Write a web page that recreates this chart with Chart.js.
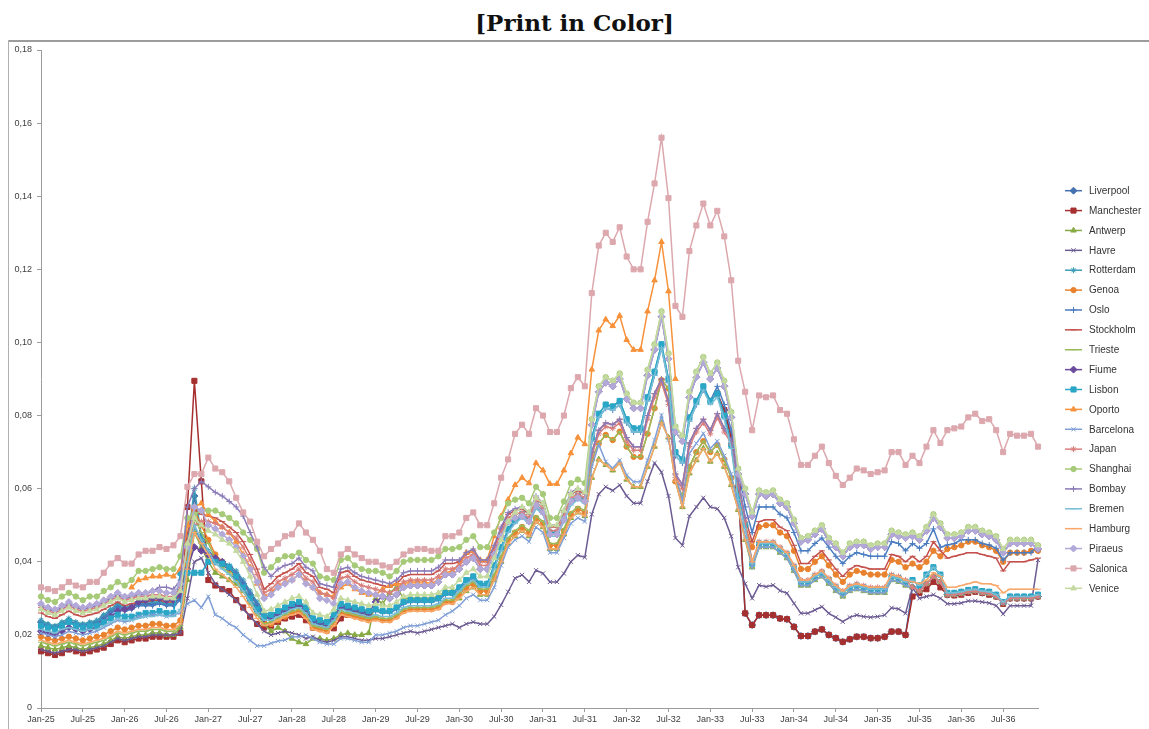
<!DOCTYPE html>
<html lang="en">
<head>
<meta charset="UTF-8" />
<title>Print in Color</title>
<script src="https://cdn.jsdelivr.net/npm/chart.js"></script>
<style>
    body { margin: 0; background: #fff; }
    .page { position: relative; width: 1149px; height: 729px; overflow: hidden; }
    .title {
        position: absolute; left: 0; top: 11px; width: 100%;
        text-align: center; font: bold 23px "DejaVu Serif", serif; line-height: 23px; color: #111;
    }
    .frame-top { position: absolute; left: 8px; top: 40px; width: 1141px; height: 2px; background: #9c9c9c; }
    .frame-left { position: absolute; left: 8px; top: 40px; width: 1px; height: 689px; background: #b0b0b0; }
    canvas { position: absolute; left: 0; top: 0; }
</style>
</head>
<body>
<div class="page">
    <div class="title">[Print in Color]</div>
    <div class="frame-top"></div>
    <div class="frame-left"></div>
    <canvas id="chart" width="1149" height="729"></canvas>
</div>

<script>
// values in thousandths (0,034 -> 34), one row per year 1925..1936
const n = null;

const monthNames = ['Jan','Feb','Mar','Apr','May','Jun','Jul','Aug','Sep','Oct','Nov','Dec'];
const years = ['25','26','27','28','29','30','31','32','33','34','35','36'];
const tickLabels = ['Jan-25','Jul-25','Jan-26','Jul-26','Jan-27','Jul-27','Jan-28','Jul-28','Jan-29','Jul-29',
    'Jan-30','Jul-30','Jan-31','Jul-31','Jan-32','Jul-32','Jan-33','Jul-33','Jan-34','Jul-34','Jan-35','Jul-35','Jan-36','Jul-36'];

const liverpool = [
    23.5,22.5,22,23,24,23,22.5,23,23.5,25,26.5,28,
    27,27.5,28.5,28.5,28.5,29,28.5,28.5,30,42,58,46,
    42,40,39,38,36.5,34,31,28,25,24.5,25.5,26.5,
    27.5,28,26.5,23.5,23,22.5,24.5,27.5,27,26.5,26,25.5,
    n,n,n,n,n,n,n,n,n,n,n,n,
    n,n,n,n,n,n,n,n,n,n,n,n,
    n,n,n,n,n,n,n,n,n,n,n,n,
    n,n,n,n,n,n,n,n,n,n,n,n,
    n,86,81.5,74.2,60.5,25.9,22.7,25.4,25.4,25.4,24.5,24.3,
    22.2,19.7,19.7,20.9,21.5,20,19.1,18.1,18.8,19.5,19.5,19.1,
    19.1,19.5,20.9,20.9,20,33,32,34,36,34.5,31,31,
    31.3,31.8,32,31.5,31.3,30.5,28.7,30,30,30,30,30.5
];
const manchester = [
    15.5,15,14.5,15,16,15.5,15,15.5,16,16.5,17.5,18.5,
    18,18.5,19,19,19.5,19.5,19.5,19.5,20.5,55,89.5,62,
    35,33.5,32.5,32,29.5,27.5,25,23,22,22.5,23.5,24.5,
    25,25.5,24,22,21.8,21.8,21.8,24.5,25.5,25.5,25,25,
    n,n,n,n,n,n,n,n,n,n,n,n,
    n,n,n,n,n,n,n,n,n,n,n,n,
    n,n,n,n,n,n,n,n,n,n,n,n,
    n,n,n,n,n,n,n,n,n,n,n,n,
    n,86,81.5,74.2,60.5,25.9,22.7,25.4,25.4,25.4,24.5,24.3,
    22.2,19.7,19.7,20.9,21.5,20,19.1,18.1,18.8,19.5,19.5,19.1,
    19.1,19.5,20.9,20.9,20,30.5,31.5,32.5,34.5,33,31,30.8,
    31,31.5,31.8,31.5,31,30.5,28.5,30,30,30,30,30.5
];
const antwerp = [
    17,16.5,16,16.5,17,16.5,16,16.5,17,17.5,18.5,19.5,
    19,19.5,20,20,20.5,20.5,20,20,22,35,48,44,
    40,37,36,35,34,32,29,26,23,21,22,21,
    19,18,17.5,19,19,18.5,19,20,20.5,20,20,20.5,
    30,28.5,31.5,33,30,30,30,30,30,30.5,32,32,
    30,32,33,31,31,35,40,45,47,48.5,47,51,
    49.5,43.5,43.5,47.5,52,53.5,52.5,63,68,66.5,65,67,
    62.5,60.5,60.5,66,71.5,78,74,62,55,64.2,67.8,71,
    67.4,69.6,66,61,54.2,46,38.5,44,44,44,42.5,41,
    37.5,33.5,33.5,35,36,34,32,30.5,32,32.5,32,31.5,
    31.5,31.5,35,34.5,33.5,33,32,34,36,34.5,31,31,
    31.3,31.8,32,31.5,31.3,30.5,28.7,30,30,30,30,30.5
];
const havre = [
    16,15.5,15,15.5,16,16,15.5,16,16.5,17,18,19,
    18.5,19,19.5,19.5,20,20,20,20,20.5,30,40,41,
    37,34,32.5,31,29.5,27,25,23,21,20,20.5,21,
    20.5,20,19,19.5,18.5,18,18.5,19.5,19.5,19,18.5,18.5,
    19,19,19.5,20,20.5,21,20.5,21,21.5,22,22.5,23,
    22,23,23.5,23,23,25,28.2,31.8,35.5,36.4,34.5,37.7,
    36.8,34.5,34.5,36.8,40,41.8,41.2,53,58.5,60.5,59.5,61,
    58,56,56,62,67,64.5,58,46.5,44.5,52.5,55,57.5,
    55,54.5,52,47,38.5,34,30,33.6,33.2,33.6,32.1,31.4,
    28.6,25.9,25.9,26.8,27.7,25.9,24.8,23.6,24.8,25.4,25,24.8,
    25,25.4,27.4,27.1,25.9,33,30,30.5,31,30,28.5,28.5,
    28.7,29.3,29.3,29,28.7,28,25.7,28,28,28,28,40.5
];
const rotterdam = [
    24,23,22.5,23.5,24.5,23.5,23,23.5,24,25.5,27,28.5,
    27.5,28,28.5,29,29,29,28.5,28.5,31,45,60,47,
    43,41,40,39,37.5,35,32,29,26,25.5,26.5,27.5,
    28.5,29,27.5,24.5,24,23.5,25.5,28.5,28,27.5,27,26.5,
    27,26.5,26.5,27.5,29,29.5,29.5,29.5,29.5,30,31.5,31.5,
    33,35,36,34,34,39,44,49,51.5,53,51.5,55.5,
    54,48,48,52,56.5,58,57,74,80.5,83,82.5,84,
    79,76.5,76.5,85,92,99.5,90,70,68,79.5,84,88,
    84,86,80,72,58,50,39.5,45,45,45,43.5,42,
    38.5,34.5,34.5,36,37,35,33,31.5,33,33.5,33,32.5,
    32.5,32.5,36,35.5,34.5,35,33.5,36.5,38.5,36.5,31.5,31.5,
    31.8,32.3,32.5,32,31.8,31,29,30.5,30.5,30.5,30.5,31
];
const genoa = [
    19.5,19,18.5,19,19.5,19,18.5,19,19.5,20,21,22,
    21.5,22,22.5,22.5,23,23,22.5,22.5,24,44,54,50,
    46,42,40,38,35.5,32.5,29,26,23.5,23,24,25,
    26,26.5,25,22,21.5,21,23,26,25.5,25,24.5,24,
    24.5,24,24,25,26.5,27,27,27,27,27.5,29,29,
    31,33,34,32,32,36,41,46,48,49.5,48,52,
    50.5,44.5,44.5,48.5,53,54.5,53.5,68,72.4,74.7,73.3,75.6,
    71.5,68.7,68.7,75,82,89.7,87.4,62,58,66,70,73,
    70,72,68,63,57,50,44,49.5,50,50,48,47,
    43,38,38,40,41.5,39,36.5,34.5,36.5,37.5,37,36.5,
    36.5,36.5,40.5,40,38.5,39.5,38.5,40,43,41.5,43.5,44,
    44.5,45.5,45.5,44.5,44,43,40,42.5,42.5,42.5,43,43
];
const oslo = [
    23,22.5,22,22.5,23.5,23,22.5,23,23,24.5,26,27.5,
    26.5,27,28,28,28,28.5,28,28,29.5,40,50,45,
    42.5,40.5,39.5,38.5,37,34.5,31.5,28.5,25.5,25,26,27,
    28,28.5,27,24,23.5,23,25,28,27.5,27,26.5,26,
    26.5,26,26,27,28.5,29,29,29,29,29.5,31,31,
    32.5,34.5,35.5,33.5,33.5,38.5,43.5,48.5,51,52.5,51,55,
    53.5,47.5,47.5,51.5,56,57.5,56.5,73,79.5,82,81.5,83,
    78,75.5,75.5,84,91,98.5,89,69,67,78.5,83,87,
    84,88,83,76,65,55,48,55,55,55,53,52,
    48,43,43,45,46.5,44,41.5,39.5,41.5,42.5,42,41.5,
    41.5,41.5,45.5,45,43,45,43.7,45,49,44,44.6,45,
    46,46,46,45,44.6,43.7,40.5,42.5,42.5,42.5,42.5,44.6
];
const stockholm = [
    26,25,24.5,25.5,26.5,25.5,25,25.5,26,27,28,29,
    28,28.5,29,29,29.5,29.5,29,29,31,48,54,53,
    52.5,52,51,49.5,48,45.5,42,38,32.5,34,36,37,
    38,39.5,37,36,33,32.5,31.5,37,37.5,36,35,34.5,
    34,33.5,33,34,36,36.5,36.5,36.5,36.5,37.5,39.5,39.5,
    40,42,43,40,40,44,49,53,54,54.5,53,57.5,
    55.5,49.5,49.5,53.5,58.5,59.5,58.5,70,76,78,77.5,79,
    74,71.5,71.5,80,86,90,84,64,61,72.5,76.5,79,
    76,80.5,76.5,73.3,62,52,45.5,51,51.5,51.5,49.5,48.5,
    44.5,39.5,39.5,41.5,43,40.5,38,36,38,39,38.5,38,
    38,38,42,41.5,40,41.5,40,41.5,45.5,43,41,41.5,
    42,42.5,42.5,42,41.5,41,37.5,40,40,40,40.5,41
];
const trieste = [
    18,17.5,17,17.5,18,17.5,17,17.5,18,18.5,19.5,20.5,
    20,20.5,21,21,21.5,21.5,21,21,22.5,40,52,48,
    45,41,38.5,37,35,32,28.5,25.5,23,23.5,24.5,25.5,
    26.5,27,25.5,22.5,22,21.5,23.5,26.5,26,25.5,25,24.5,
    25,24.5,24.5,25.5,27,27.5,27.5,27.5,27.5,28,29.5,29.5,
    31.5,33.5,34.5,32.5,32.5,36.5,41.5,46.5,48.5,50,48.5,52.5,
    51,45,45,49,53.5,55,54,68,72.4,74.7,73.3,75.6,
    71.5,68.7,68.7,75,82,89.7,87.4,62,58,66,70,73,
    70,72,68,63,57,50,38.5,44,44,44,42.5,41,
    37.5,33.5,33.5,35,36,34,32,30.5,32,32.5,32,31.5,
    31.5,31.5,35,34.5,33.5,33,32,34,36,34.5,31,31,
    31.3,31.8,32,31.5,31.3,30.5,28.7,30,30,30,30,30.5
];
const fiume = [
    21,20.5,20,21,22,21.5,21,21.5,22,23.5,25,26.5,
    27,27.5,29,29.5,30,30,29.5,29.5,31,38,44,43,
    42,41,40,38.5,36,33,30,27,24.5,25,26,27,
    28,28.5,27,24,23.5,23,25,28,27.5,27,26.5,26,
    29,30.5,30,31,33,33.5,33.5,33.5,33.5,34.5,36.5,36.5,
    38,40,41,38,38,42,47,51,52,52.5,51,55.5,
    53.5,47.5,47.5,51.5,56.5,57.5,56.5,77.5,86.5,89,88,90,
    84.5,82,82,91,98,107,95.5,75.5,73,85,90.5,94.5,
    90,93,88,79.5,64,58.5,52.5,58.5,58,58.5,56,55,
    50.5,45.5,46,47.5,49,45.5,44,41.5,44,44.5,44.5,43.5,
    44,44,47.5,47,46.5,47,46,48.5,52,49.5,46.5,46.5,
    47,48.5,48.5,47.5,47,46,42.5,45,45,45,45,43.5
];
const lisbon = [
    22.5,22,21.5,22.5,23.5,22.5,22,22.5,22.5,23.5,24.5,25.5,
    25,25,25.5,26,26,26.5,26,26,37,37,37,37,
    40,40,39.5,38.5,36,33,30,27,25,25.5,26.5,27.5,
    28.5,29,27.5,24.5,24,23.5,25.5,28.5,28,27.5,27,26.5,
    27,26.5,26.5,27.5,29,29.5,29.5,29.5,29.5,30,31.5,31.5,
    33,35,36,34,34,39,44,49,51.5,53,51.5,55.5,
    54,48,48,52,56.5,58,57,74,80.5,83,82.5,84,
    79,76.5,76.5,85,92,99.5,90,70,68,79.5,84,88,
    84,86,80,72,58,50,39.5,45,45,45,43.5,42,
    38.5,34.5,34.5,36,37,35,33,31.5,33,33.5,33,32.5,
    32.5,32.5,36,35.5,34.5,35,33.5,36.5,38.5,36.5,31.5,31.5,
    31.8,32.3,32.5,32,31.8,31,29,30.5,30.5,30.5,30.5,31
];
const oporto = [
    n,n,n,n,n,n,n,n,n,n,n,n,
    n,33,35,35.5,36,36,36.5,36,38,50,55,56,
    53,51,49.5,48,45.5,42,38.5,34,30.5,31.5,33.5,34.5,
    35,36.5,34.5,33,31.5,31,30.5,33,34,32.5,31.5,31,
    31,32.5,33.5,34,34,34.5,34.5,34.5,34,35,37,37.5,
    39,42.5,43,40.5,40.5,47,52.5,57,61,63,61.5,67,
    65,61.3,61.3,65,69.7,74,72.2,92.6,103.3,106.3,104.5,107.3,
    100.7,98,98,108.5,117,127.5,114,90,n,n,n,n,
    n,n,n,n,n,n,n,n,n,n,n,n,
    n,n,n,n,n,n,n,n,n,n,n,n,
    n,n,n,n,n,n,n,n,n,n,n,n,
    n,n,n,n,n,n,n,n,n,n,n,n
];
const barcelona = [
    20.5,20,19.5,20,21,20.5,20,20.5,21,22,23,24,
    23.5,24,25,25,25.5,25.5,25,25.5,26,28.5,29.5,27.5,
    30.5,25.5,24.5,23,22,20,18.5,17,17,17.7,18.3,18.6,
    19.5,19.5,20,19,18,17.5,17.5,19,19,18.5,18,18,
    20,20,20.5,21,22,22.5,22.5,23,23.5,24,25.5,26.5,
    28,30,31,29.5,29.5,33,39,44,46,47,45.5,49.5,
    48,42.5,42.5,46.5,50.5,52,51,66,72,67.4,65.6,67.8,
    63.7,61.9,61.9,67.8,73.3,80.1,73.3,64.2,56.5,69.6,72.4,75.1,
    71,73,69,64,55,47,38.5,44,44,44,42.5,41,
    37.5,33.5,33.5,35,36,34,32,30.5,32,32.5,32,31.5,
    31.5,31.5,35,34.5,33.5,33,32,34,36,34.5,31,31,
    31.3,31.8,32,31.5,31.3,30.5,28.7,30,30,30,30,30.5
];
const japan = [
    27.5,26.5,26,27,28,27,26.5,27,27.5,28.5,29.5,30.5,
    29.5,30,30.5,30.5,31,31,30.5,30.5,33,45,50,51,
    51,50.5,49.5,48,46.5,44,40.5,36.5,31.5,32.5,34.5,35.5,
    36.5,38,35.5,34.5,31.5,31,30,35.5,36,34.5,33.5,33,
    32.5,32,31.5,32.5,34.5,35,35,35,35,36,38,38,
    39,41,42,39,39,43,48,52,53,53.5,52,56.5,
    54.5,48.5,48.5,52.5,57.5,58.5,57.5,69,75,77,76.5,78,
    73,70.5,70.5,79,85,89,83,63,60,71.5,75.5,78,
    75,79.5,75.5,72.3,61,51,40,45.5,45.5,45.5,44,42.5,
    39,35,35,36.5,37.5,35.5,33.5,32,33.5,34,33.5,33,
    33,33,36.5,36,35,33,32,34,36,34.5,31,31,
    31.3,31.8,32,31.5,31.3,30.5,28.7,30,30,30,30,30.5
];
const shanghai = [
    30.5,29.5,29,30.5,31.5,30.5,29.5,30.5,30.5,32,33,34.5,
    33.5,35,37.5,37.5,38,38.5,38,38,41.5,52,53,54,
    54,54,53,52,50.5,48,46,43.5,37,38.5,40.5,41.5,
    41.5,42.5,40.5,39.5,36,35.5,35,40.5,41,39,38,37.5,
    37.5,37,36,37.5,40,40.5,40.5,40.5,40.5,41.5,43.5,43.5,
    44,46,47,44,44,48,52,56,57,57.5,56,60.5,
    58.5,52,52,56.5,61.5,62.5,61.5,79,88,90.5,89.5,91.5,
    86,83.5,83.5,92.5,99.5,108.5,97,77,74.5,86.5,92,96,
    91.5,94.5,89.5,81,65.5,60,53.5,59.5,59,59.5,57,56,
    51.5,46.5,47,48.5,50,46.5,45,42.5,45,45.5,45.5,44.5,
    45,45,48.5,48,47.5,48,47,49.5,53,50.5,47.5,47.5,
    48,49.5,49.5,48.5,48,47,43.5,46,46,46,46,44.5
];
const bombay = [
    28,27,26.5,27.5,28.5,27.5,27,27.5,28,29,30,31,
    30,30.5,31,31,32,33,33,32.5,35,55,60,62,
    60.5,59,58,56.5,55,52.5,48,44,38.5,36,38,39,
    39.5,41,38.5,37.5,34,33.5,33,38,38.5,37,36,35.5,
    35,34.5,34,35,37,37.5,37.5,37.5,37.5,38.5,40.5,40.5,
    40.5,42.5,43.5,40.5,40.5,44.5,49.5,53.5,54.5,55,53.5,58,
    56,50,50,54,59,60,59,70,76,78,77.5,79,
    74,71.5,71.5,80,86,90,84,64,61,72.5,76.5,79,
    76,80.5,76.5,73.3,62,52,52.5,58.5,58,58.5,56,55,
    50.5,45.5,46,47.5,49,45.5,44,41.5,44,44.5,44.5,43.5,
    44,44,47.5,47,46.5,47,46,48.5,52,49.5,46.5,46.5,
    47,48.5,48.5,47.5,47,46,42.5,45,45,45,45,43.5
];
const bremen = [
    21.5,21,20.5,21.5,22,21.5,21,21.5,21.5,22.5,23.5,24.5,
    24,24,24.5,25,25,25.5,25,25,27,40,50,46,
    43,39.5,38,36.5,34.5,32,29,26,24,24,25,26,
    27,27.5,26,23,22.5,22,24,27,26.5,26,25.5,25,
    25.5,25,25,26,27.5,28,28,28,28,28.5,30,30,
    32,34,35,33,33,38,43,48,50.5,52,50.5,54.5,
    53,47,47,51,55.5,57,56,73,79.5,82,81.5,83,
    78,75.5,75.5,84,91,98.5,89,69,67,78.5,83,87,
    83,85,79,71,57,49,39.5,45,45,45,43.5,42,
    38.5,34.5,34.5,36,37,35,33,31.5,33,33.5,33,32.5,
    32.5,32.5,36,35.5,34.5,35,33.5,36.5,38.5,36.5,31.5,31.5,
    31.8,32.3,32.5,32,31.8,31,29,30.5,30.5,30.5,30.5,31
];
const hamburg = [
    18.5,18,17.5,18,18.5,18,17.5,18,18.5,19,20,21,
    20.5,21,21.5,21.5,22,22,21.5,21.5,23,38,48,45,
    42,38,36.5,35,33,30.5,27.5,24.5,22.5,23,24,25,
    25.5,26,24.5,21.5,21,20.5,22.5,25.5,25,24.5,24,23.5,
    24,23.5,23.5,24.5,26,26.5,26.5,26.5,26.5,27,28.5,28.5,
    30,32,33,31,31,35,40,45,47,48.5,47,51,
    49.5,43.5,43.5,47.5,52,53.5,52.5,63,68,66.5,65,67,
    62.5,60.5,60.5,66,71.5,78,74,62,55,64.2,67.8,71,
    67.4,69.6,66,61,54.2,46,40,45.5,45.5,45.5,44,42.5,
    39,35,35,36.5,37.5,35.5,33.5,32,33.5,34,33.5,33,
    33,33,36.5,36,35,34.5,34,35,37,36,33,33,
    33.5,34,34.5,34,34,33.5,31.5,32.5,32.5,32.5,32.5,32.5
];
const piraeus = [
    28.5,27.5,27,28,29,28,27.5,28,28.5,29.5,30.5,31.5,
    30.5,31,31.5,31.5,32,32,31.5,31.5,34,44,55,54,
    50,49,47.5,46,44,41.5,38,34.5,30,31,33,34,
    35,36.5,34,33,30,29.5,28.5,34,34.5,33,32,31.5,
    31,30.5,30,31,33,33.5,33.5,33.5,33.5,34.5,36.5,36.5,
    38,40,41,38,38,42,47,51,52,52.5,51,55.5,
    53.5,47.5,47.5,51.5,56.5,57.5,56.5,77.5,86.5,89,88,90,
    84.5,82,82,91,98,107,95.5,75.5,73,85,90.5,94.5,
    90,93,88,79.5,64,58.5,52.5,58.5,58,58.5,56,55,
    50.5,45.5,46,47.5,49,45.5,44,41.5,44,44.5,44.5,43.5,
    44,44,47.5,47,46.5,47,46,48.5,52,49.5,46.5,46.5,
    47,48.5,48.5,47.5,47,46,42.5,45,45,45,45,43.5
];
const salonica = [
    33,32.5,32,33,34.5,33.5,33,34.5,34.5,37,39.5,41,
    39.5,39.5,42,43,43,44,43.5,44.5,47,60.5,64,64,
    68.5,65.5,64.5,62,57.5,53.5,51,45.5,41.5,43.5,45,47,
    47.5,50.5,48,46,43,38,37,42,43.5,42,41,40,
    40,39,38.5,40,42,43,43.5,43.5,43,43,47,47,
    48,52,53.5,50,50,56,63,68,75,77.5,75,82,
    80,75.5,75.5,80,87.5,90.5,88,113.5,126.5,130,127.5,131.5,
    123.5,120,120,133,143.5,156,139.5,110,107,125,132,138,
    132,136,129,117,95,86.5,76,85.5,85,85.5,81.5,80.5,
    73.5,66.5,66.5,69,71.5,67,63.5,61,63,65.5,65,64,
    64.5,65,70,70,66.5,69,67,71.5,76,72.5,76,76.5,
    77,79.5,80.5,78.5,79,76,70,75,74.5,74.5,75,71.5
];
const venice = [
    27,26,25.5,26.5,27.5,26.5,26,26.5,27,28,29,30,
    29,29.5,30,30,30.5,30.5,30,30,32,45,52,50,
    48.5,47.5,46,45,43,40,36,31,26.5,27,28,29,
    30,30.5,29,26,25.5,25,27,30,29.5,29,28.5,28,
    28.5,28,28,29,30.5,31,31,31,31,31.5,33,33,
    35,37,38,36,36,41,46,51,53.5,55,53.5,57.5,
    56,50,50,54,58.5,60,59,79,88,90.5,89.5,91.5,
    86,83.5,83.5,92.5,99.5,108.5,97,77,74.5,86.5,92,96,
    91.5,94.5,89.5,81,65.5,60,53.5,59.5,59,59.5,57,56,
    51.5,46.5,47,48.5,50,46.5,45,42.5,45,45.5,45.5,44.5,
    45,45,48.5,48,47.5,48,47,49.5,53,50.5,47.5,47.5,
    48,49.5,49.5,48.5,48,47,43.5,46,46,46,46,44.5
];

const names = ['Liverpool','Manchester','Antwerp','Havre','Rotterdam','Genoa','Oslo','Stockholm','Trieste','Fiume',
    'Lisbon','Oporto','Barcelona','Japan','Shanghai','Bombay','Bremen','Hamburg','Piraeus','Salonica','Venice'];
const values = [liverpool, manchester, antwerp, havre, rotterdam, genoa, oslo, stockholm, trieste, fiume,
    lisbon, oporto, barcelona, japan, shanghai, bombay, bremen, hamburg, piraeus, salonica, venice];
const colors = ['#4470b0','#a5302f','#88aa44','#6c5b92','#3b9db6','#e8822e','#4a7cc0','#c4504c','#98bb5a','#6a4a9c',
    '#2aa6c6','#f7913a','#809fd6','#d97f7c','#a6ca78','#8b7bb8','#78bfd6','#f8a86a','#b2a9d8','#dca8ae','#c4daa0'];
const markers = ['rectRot','rect','triangle','crossRot','star','circle','cross','line','line','rectRot',
    'rect','triangle','crossRot','star','circle','cross','line','line','rectRot','rect','triangle'];
const markerSize = { rectRot: 3.5, rect: 3.6, triangle: 3.2, crossRot: 3, star: 3, circle: 2.7, cross: 3, line: 3 };

const months = [];
years.forEach(y => monthNames.forEach(m => months.push(m + '-' + y)));

const datasets = names.map((name, i) => ({
    label: name,
    data: values[i],
    borderColor: colors[i],
    backgroundColor: colors[i],
    pointBackgroundColor: colors[i],
    pointBorderColor: colors[i],
    pointStyle: markers[i],
    pointRadius: markerSize[markers[i]],
    pointBorderWidth: 1,
    borderWidth: 1.5,
    tension: 0,
    spanGaps: false,
    order: names.length - i   // later series drawn on top, like the spreadsheet
}));

// legend drawn like the spreadsheet one: short line with the marker in the middle
const sideLegend = {
    id: 'sideLegend',
    afterDraw(chart) {
        const c = chart.ctx;
        c.save();
        chart.data.datasets.forEach((ds, i) => {
            const y = 190.7 + i * 19.88;
            c.strokeStyle = ds.borderColor;
            c.fillStyle = ds.borderColor;
            c.lineWidth = 1.5;
            c.beginPath();
            c.moveTo(1065, y);
            c.lineTo(1082, y);
            c.stroke();
            c.lineWidth = 1;
            if (Chart.helpers && Chart.helpers.drawPoint) {
                Chart.helpers.drawPoint(c, { pointStyle: ds.pointStyle, radius: ds.pointRadius, borderWidth: 1, rotation: 0 }, 1073.5, y);
            }
            c.fillStyle = '#333';
            c.font = '10px "Liberation Sans", Arial, sans-serif';
            c.textBaseline = 'middle';
            c.textAlign = 'left';
            c.fillText(ds.label, 1089, y + 0.5);
        });
        c.restore();
    }
};

new Chart(document.getElementById('chart'), {
    type: 'line',
    data: { labels: months, datasets: datasets },
    options: {
        responsive: false,
        animation: false,
        devicePixelRatio: 1,
        events: [],
        layout: { padding: { left: 8, top: 50, right: 111, bottom: 0 } },
        plugins: { legend: { display: false }, tooltip: { enabled: false }, title: { display: false } },
        scales: {
            x: {
                type: 'category',
                offset: false,
                grid: { drawOnChartArea: false, drawTicks: true, tickLength: 4, color: '#9c9c9c' },
                border: { color: '#9c9c9c', width: 1 },
                ticks: {
                    autoSkip: false, maxRotation: 0, minRotation: 0, padding: 2,
                    color: '#404040', font: { family: '"Liberation Sans", Arial, sans-serif', size: 9 },
                    callback: function (val, idx) {
                        const l = months[idx];
                        return tickLabels.includes(l) ? l : null;
                    }
                },
                afterFit: function (scale) { scale.height = 21; }
            },
            y: {
                min: 0, max: 180,
                grid: { drawOnChartArea: false, drawTicks: true, tickLength: 4, color: '#9c9c9c' },
                border: { color: '#9c9c9c', width: 1 },
                ticks: {
                    stepSize: 20, padding: 5,
                    color: '#404040', font: { family: '"Liberation Sans", Arial, sans-serif', size: 9 },
                    callback: v => v === 0 ? '0' : (v / 1000).toFixed(2).replace('.', ',')
                },
                afterFit: function (scale) { scale.width = 33; }
            }
        }
    },
    plugins: [sideLegend]
});
</script>
</body>
</html>
